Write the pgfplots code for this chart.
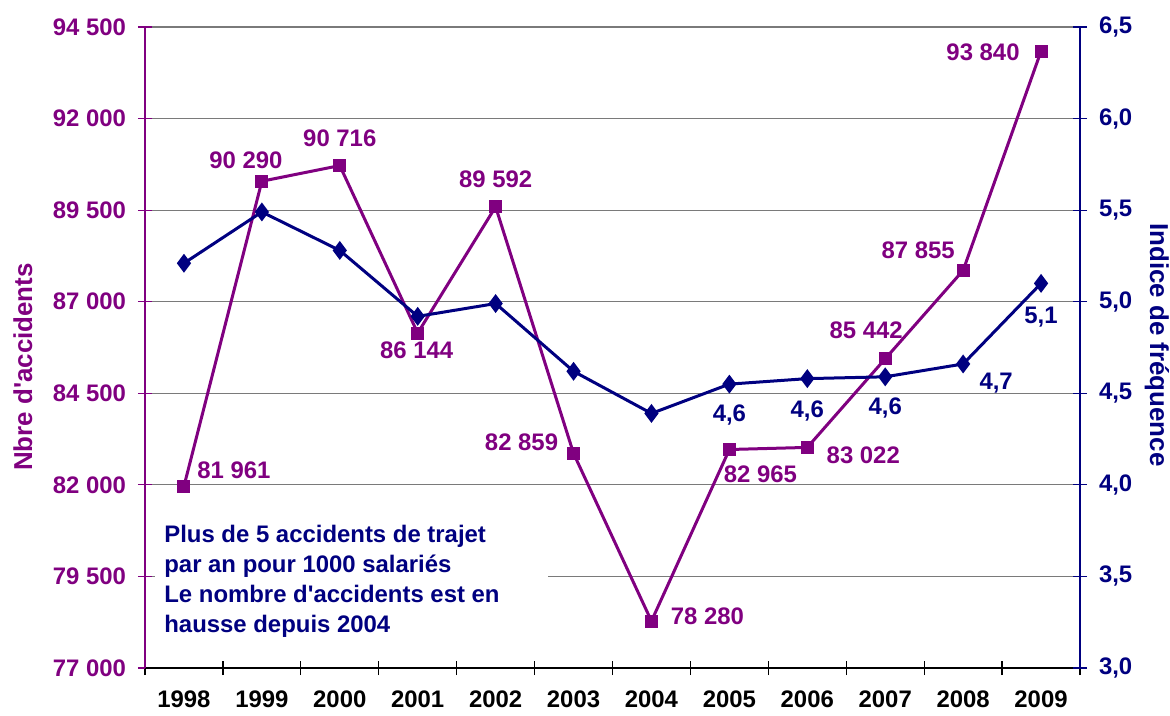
\documentclass[border=0pt]{standalone}
\usepackage{pgfplots}
\pgfplotsset{compat=1.18}
\usepackage{fontspec}
\setmainfont{Liberation Sans}
\definecolor{acc}{HTML}{800080}
\definecolor{ind}{HTML}{000080}
\definecolor{gridc}{HTML}{7A7A7A}

\begin{document}
\begin{tikzpicture}
\tikzset{lab/.style={font=\fontsize{12}{14}\selectfont\bfseries, inner sep=0pt}}
\pgfplotsset{
 common/.style={
  width=467.5bp, height=320.5bp, scale only axis,
  xmin=-0.5, xmax=11.5,
  tick align=center,
  major tick length=7bp,
  ticklabel style={font=\fontsize{12}{14}\selectfont\bfseries},
  axis line style={-, line width=0.8bp},
  scaled y ticks=false, scaled x ticks=false,
  clip=false,
 },
}
\begin{axis}[common, name=ax,
  ymin=77000, ymax=94500,
  ytick={77000,79500,82000,84500,87000,89500,92000,94500},
  yticklabels={77 000,79 500,82 000,84 500,87 000,89 500,92 000,94 500},
  axis x line*=bottom, axis y line*=left,
  x axis line style={black}, y axis line style={acc},
  xtick={-0.5,0.5,...,11.5}, xticklabels={},
  x tick style={black, line width=0.6bp},
  extra x ticks={0,1,2,3,4,5,6,7,8,9,10,11},
  extra x tick labels={1998,1999,2000,2001,2002,2003,2004,2005,2006,2007,2008,2009},
  extra x tick style={major tick length=0pt, xticklabel style={black, yshift=-8bp}},
  y tick style={acc, line width=0.6bp},
  ymajorgrids, grid style={gridc, line width=0.6bp},
  yticklabel style={acc, xshift=-2.5bp},
  ylabel={Nbre d\textquotesingle accidents},
  every axis y label/.style={at={(axis description cs:-0.1305,0.4696)}, rotate=90, anchor=center, font=\fontsize{13}{15}\selectfont\bfseries, text=acc},
]
\fill[white] (rel axis cs:0.0107,0.0437) rectangle (rel axis cs:0.431,0.231);
\node[anchor=north west, align=left, inner sep=0pt, text=ind, font=\fontsize{12}{15}\selectfont\bfseries] at (rel axis cs:0.0203,0.2231) {Plus de 5 accidents de trajet\\par an pour 1000 salariés\\Le nombre d\textquotesingle accidents est en\\hausse depuis 2004};
\addplot[acc, line width=1.5bp, mark=square*, mark size=2.5bp, mark options={solid}] coordinates {
(0,81961) (1,90290) (2,90716) (3,86144) (4,89592) (5,82859)
(6,78280) (7,82965) (8,83022) (9,85442) (10,87855) (11,93840)};
\node[lab, text=acc, xshift=25bp, yshift=8bp] at (axis cs:0,81961) {81 961};
\node[lab, text=acc, xshift=-8bp, yshift=10.5bp] at (axis cs:1,90290) {90 290};
\node[lab, text=acc, xshift=0bp, yshift=13.5bp] at (axis cs:2,90716) {90 716};
\node[lab, text=acc, xshift=-0.5bp, yshift=-8.5bp] at (axis cs:3,86144) {86 144};
\node[lab, text=acc, xshift=0bp, yshift=14bp] at (axis cs:4,89592) {89 592};
\node[lab, text=acc, xshift=-26bp, yshift=5.5bp] at (axis cs:5,82859) {82 859};
\node[lab, text=acc, xshift=28bp, yshift=2.5bp] at (axis cs:6,78280) {78 280};
\node[lab, text=acc, xshift=15.5bp, yshift=-12.5bp] at (axis cs:7,82965) {82 965};
\node[lab, text=acc, xshift=28bp, yshift=-4bp] at (axis cs:8,83022) {83 022};
\node[lab, text=acc, xshift=-9.5bp, yshift=14.5bp] at (axis cs:9,85442) {85 442};
\node[lab, text=acc, xshift=-22.5bp, yshift=10bp] at (axis cs:10,87855) {87 855};
\node[lab, text=acc, xshift=-29bp, yshift=-0.5bp] at (axis cs:11,93840) {93 840};
\end{axis}
\begin{axis}[common,
  ymin=3, ymax=6.5,
  ytick={3,3.5,4,4.5,5,5.5,6,6.5},
  yticklabels={{3,0},{3,5},{4,0},{4,5},{5,0},{5,5},{6,0},{6,5}},
  axis y line*=right, axis x line=none,
  y axis line style={ind}, y tick style={ind, line width=0.6bp},
  yticklabel style={ind, xshift=2.5bp},
  ylabel={Indice de fréquence},
  every axis y label/.style={at={(axis description cs:1.0824,0.504)}, rotate=-90, anchor=center, font=\fontsize{13}{15}\selectfont\bfseries, text=ind},
]
\addplot[ind, line width=1.5bp, mark=diamond*, mark size=3.5bp, mark options={solid}] coordinates {
(0,5.21) (1,5.49) (2,5.28) (3,4.92) (4,4.99) (5,4.62)
(6,4.39) (7,4.55) (8,4.58) (9,4.59) (10,4.66) (11,5.10)};
\node[lab, text=ind, yshift=-15.5bp] at (axis cs:7,4.55) {4,6};
\node[lab, text=ind, yshift=-16bp] at (axis cs:8,4.58) {4,6};
\node[lab, text=ind, yshift=-15.5bp] at (axis cs:9,4.59) {4,6};
\node[lab, text=ind, xshift=16.5bp, yshift=-9.5bp] at (axis cs:10,4.66) {4,7};
\node[lab, text=ind, yshift=-17bp] at (axis cs:11,5.10) {5,1};
\end{axis}
\pgfresetboundingbox
\path[use as bounding box] ([shift={(-72.5bp,-24bp)}]ax.south west) rectangle ([shift={(512.5bp,334bp)}]ax.south west);
\end{tikzpicture}
\end{document}
